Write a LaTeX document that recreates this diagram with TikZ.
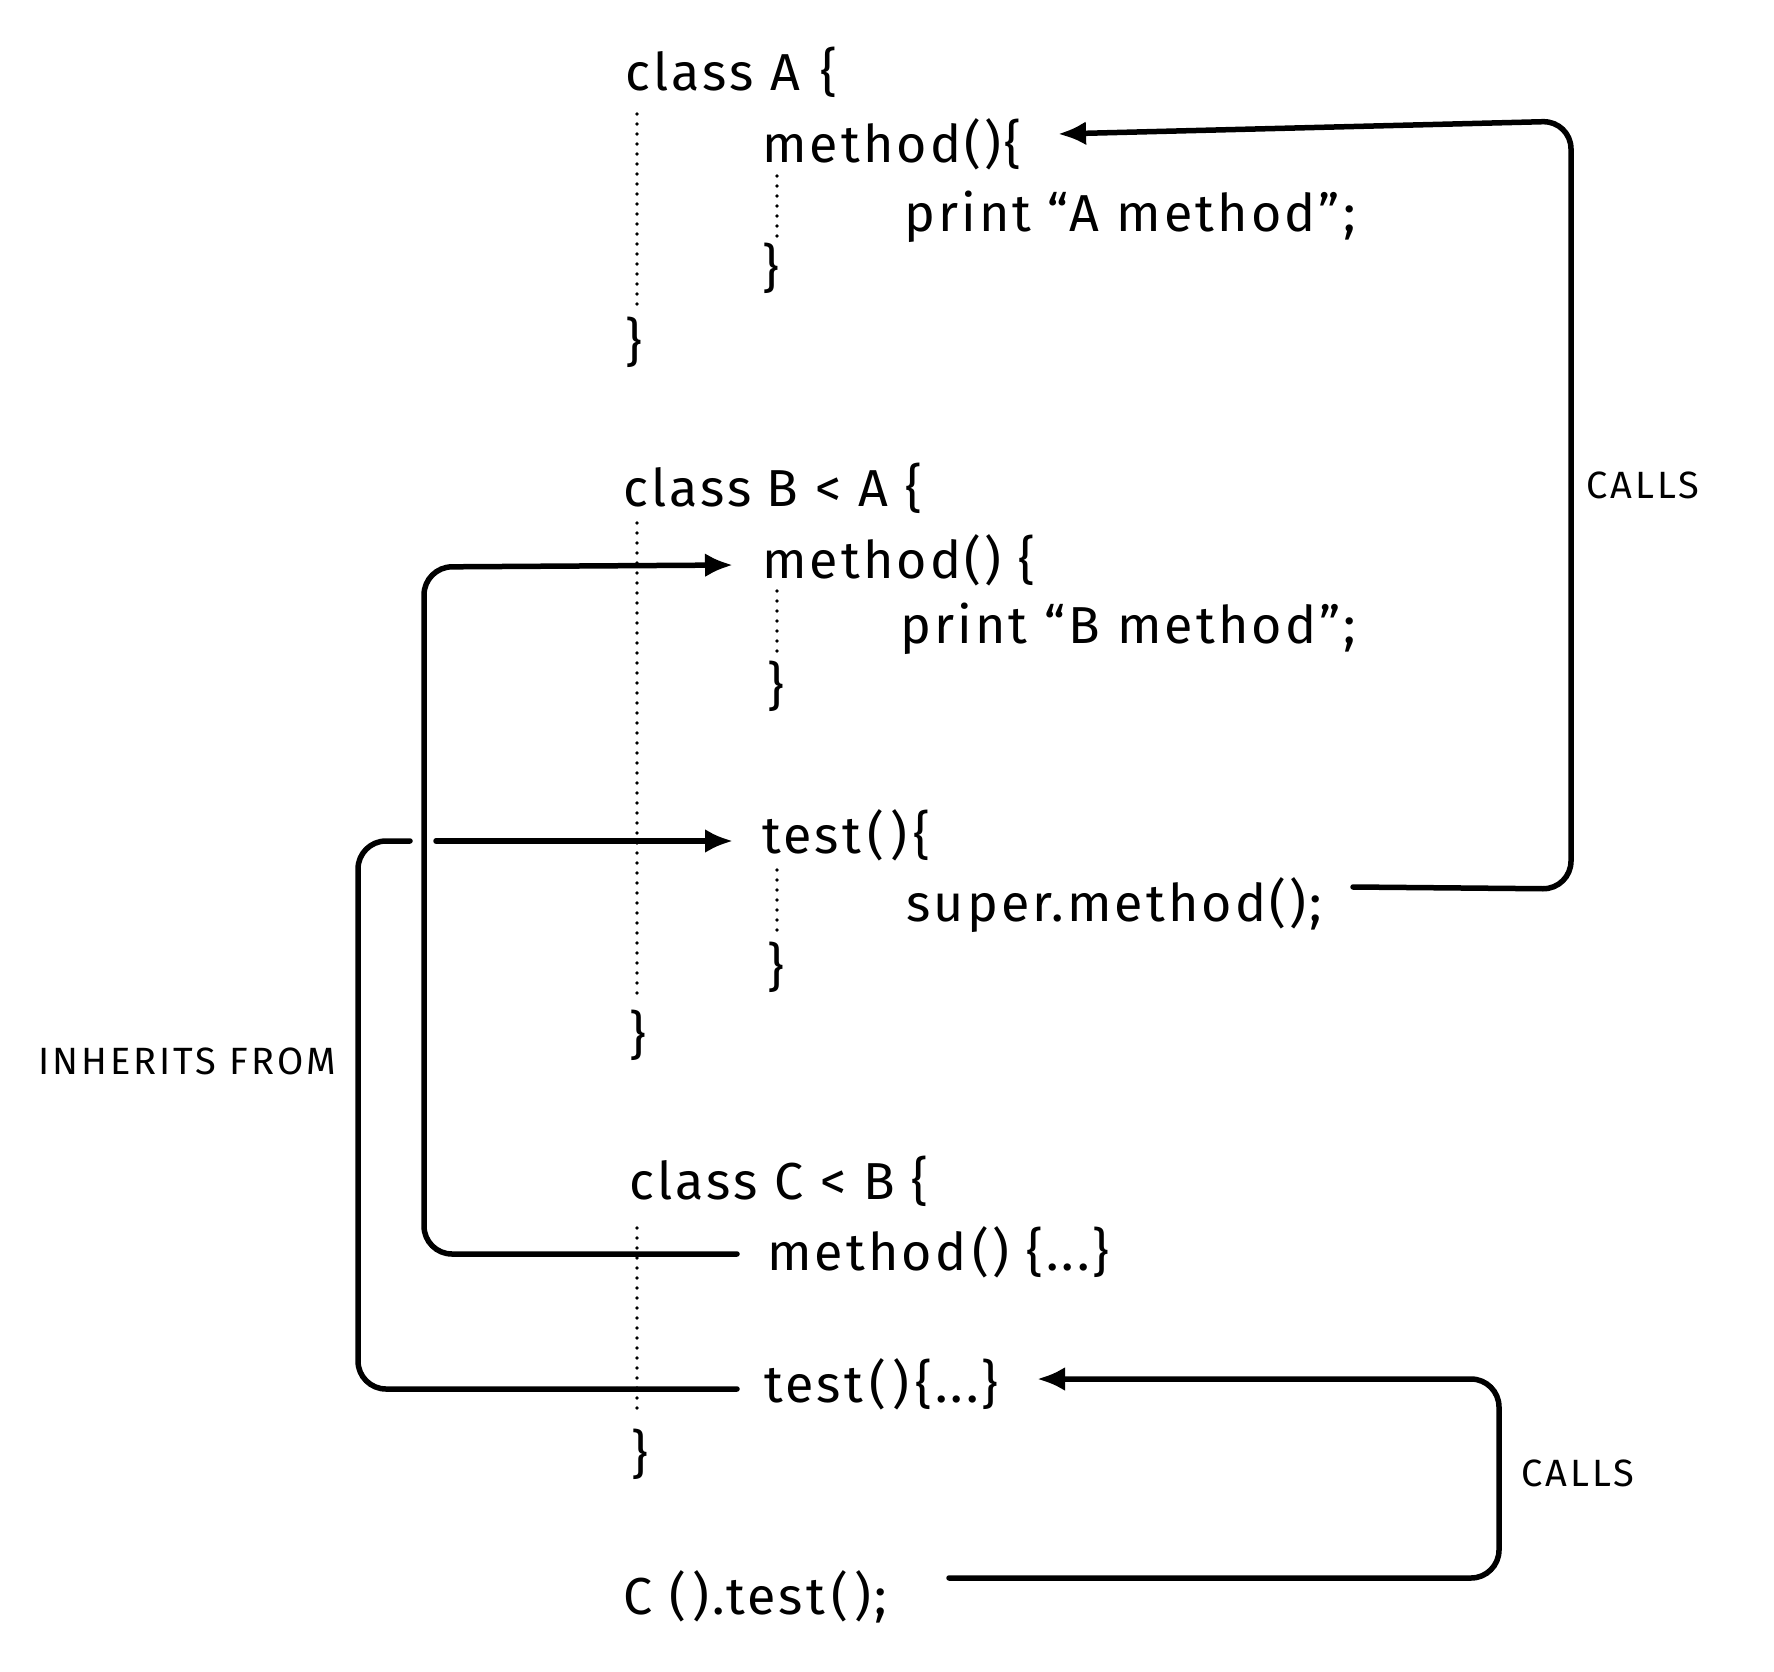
\documentclass[tikz,border=0pt]{standalone}
\usepackage{fontspec}
\setmainfont{Fira Sans}
\newfontfamily\codefont[LetterSpace=6]{Fira Sans}
\newfontfamily\labfont[LetterSpace=8]{Fira Sans}
\usetikzlibrary{arrows.meta}
\newcommand{\tsp}{\hspace{0.12em}}
\begin{document}
\begin{tikzpicture}[x=1pt,y=-1pt,
 code/.style={anchor=base west,inner sep=0pt,font=\codefont\fontsize{52}{60}\selectfont},
 lab/.style={anchor=base west,inner sep=0pt,font=\labfont\fontsize{38}{40}\selectfont},
 conn/.style={line width=5.5pt,rounded corners=28pt,line cap=round},
 arr/.style={conn,-{Latex[length=28pt,width=24pt]}},
 guide/.style={line width=3.8pt,line cap=round,dash pattern=on 0pt off 10pt}]
\useasboundingbox (0,0) rectangle (1774,1672);
% class A
\node[code] (ca) at (625,91) {class A\hspace{0.4em}\{};
\node[code] (am) at (762,163) {method()\{};
\node[code] (ap) at (904,231) {print\hspace{0.3em}“A method”;};
\node[code] (aib) at (762,286) {\}};
\node[code] (aob) at (625,360) {\}};
\draw[guide] (637,114) -- (637,307);
\draw[guide] (777,176) -- (777,239);
% class B
\node[code] (cb) at (623,506) {class\hspace{0.3em}B < A \{};
\node[code] (bm) at (762,578) {method() \{};
\node[code] (bp) at (900,643) {print “B method”;};
\node[code] (bib) at (767,704) {\}};
\node[code] (bt) at (762,853) {test\tsp(\tsp)\tsp\{};
\node[code] (bs) at (906,921) {super.method();};
\node[code] (btb) at (767,985) {\}};
\node[code] (bob) at (629,1053) {\}};
\draw[guide] (637,523) -- (637,1000);
\draw[guide] (777,591) -- (777,657);
\draw[guide] (777,870) -- (777,932);
% class C
\node[code] (cc) at (629,1199) {class C < B \{};
\node[code] (cm) at (767,1270) {method\tsp() \{...\}};
\node[code] (ct) at (764,1402) {test\tsp(\tsp)\tsp\{...\}};
\node[code] (cob) at (631,1472) {\}};
\draw[guide] (637,1228) -- (637,1410);
% call
\node[code] (call) at (623,1614) {C (\tsp).test\tsp(\tsp);};
% labels
\node[lab] (l1) at (1586,498) {CALLS};
\node[lab] (l2) at (38,1074) {INHERITS FROM};
\node[lab] (l3) at (1521,1486) {CALLS};
% connectors
\coordinate (s1) at (1353,887);
\coordinate (t1) at (1058,134);
\draw[arr] (s1) -- (1571,889) -- (1571,121) -- (t1);
\coordinate (s2) at (737,1254);
\coordinate (t2) at (733,565);
\draw[arr] (s2) -- (424,1254) -- (424,567) -- (t2);
\coordinate (s3) at (737,1389);
\coordinate (g3) at (410,841);
\coordinate (g3b) at (436,841);
\coordinate (t3) at (733,841);
\draw[conn] (s3) -- (358,1389) -- (358,841) -- (g3);
\draw[arr] (g3b) -- (t3);
\coordinate (s4) at (949,1578);
\coordinate (t4) at (1037,1379);
\draw[arr] (s4) -- (1499,1578) -- (1499,1379) -- (t4);
\end{tikzpicture}
\end{document}
